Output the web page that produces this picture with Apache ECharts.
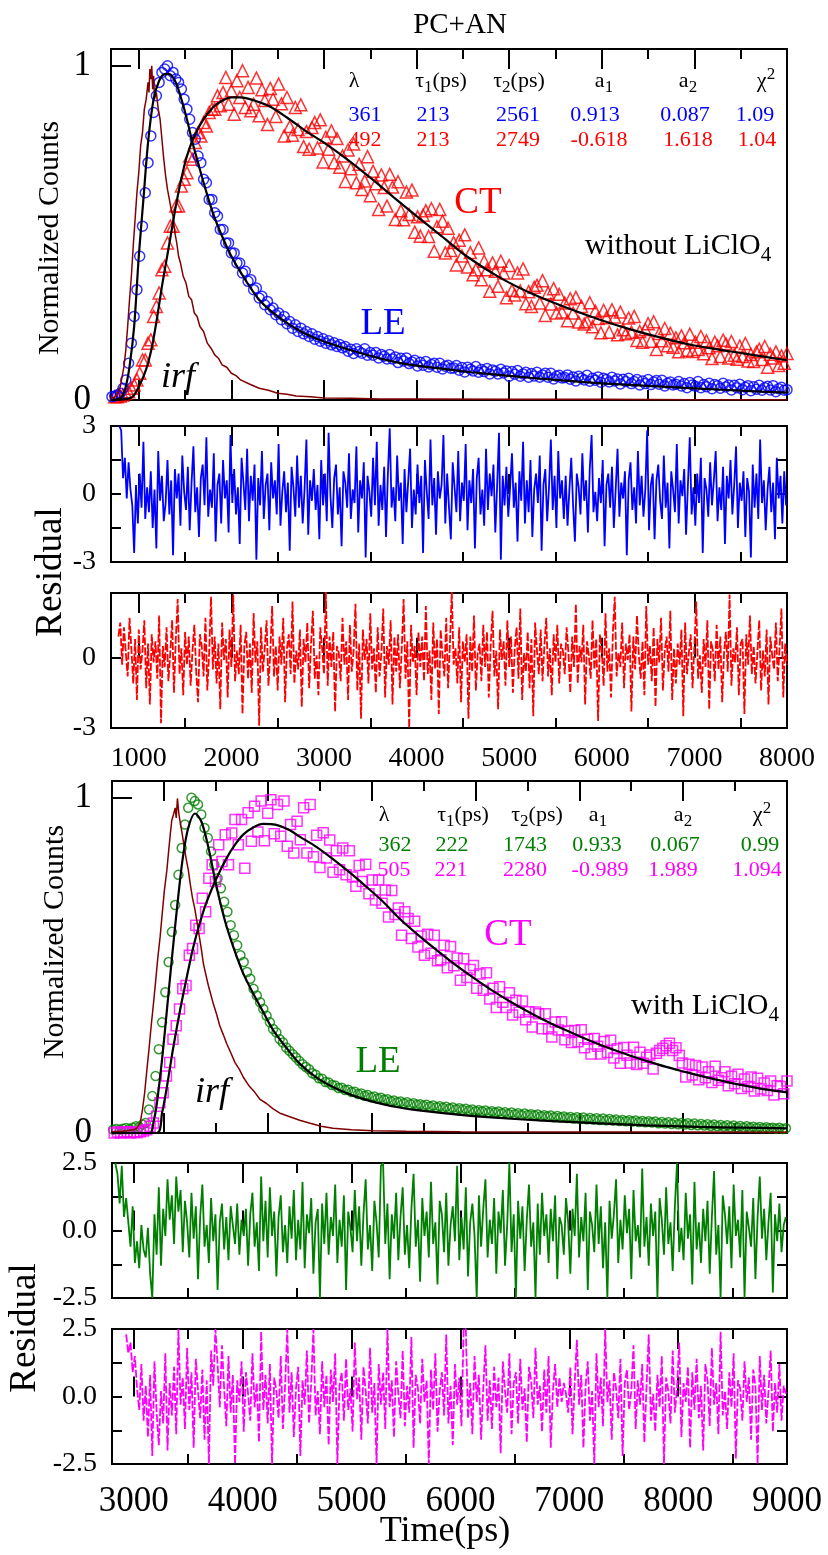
<!DOCTYPE html>
<html><head><meta charset="utf-8">
<script src="https://cdn.jsdelivr.net/npm/echarts@6.0.0/dist/echarts.min.js"></script>
<style>html,body{margin:0;padding:0;background:#fff}#c{width:828px;height:1555px}</style>
</head><body><div id="c"></div>
<script>
// ---------------- DATA ----------------
// Upper set: PC+AN without LiClO4 (time in ps, channel start/step)
const leTopStart = 710, leTopStep = 30;
const leTopVals = [0.01,0.012,0.015,0.02,0.035,0.06,0.11,0.17,0.25,0.33,
0.43,0.52,0.62,0.71,0.79,0.86,0.91,0.95,0.98,0.99,
1.0,0.97,0.98,0.96,0.95,0.93,0.9,0.87,0.84,0.8,
0.78,0.73,0.71,0.66,0.65,0.6,0.6,0.56,0.55,0.51,
0.51,0.47,0.47,0.44,0.44,0.41,0.41,0.38,0.385,0.355,
0.36,0.33,0.335,0.305,0.31,0.285,0.295,0.27,0.275,0.255,
0.26,0.24,0.25,0.228,0.235,0.215,0.225,0.205,0.215,0.198,
0.205,0.19,0.198,0.182,0.19,0.176,0.183,0.17,0.177,0.165,
0.171,0.16,0.166,0.156,
0.160,0.146,0.152,0.139,0.153,0.145,0.140,0.153,0.134,0.142,
0.134,0.142,0.126,0.136,0.131,0.123,0.136,0.123,0.129,0.112,
0.125,0.117,0.126,0.109,0.114,0.119,0.102,0.113,0.104,0.115,
0.099,0.106,0.110,0.098,0.110,0.093,0.101,0.104,0.095,0.096,
0.103,0.089,0.097,0.084,0.098,0.092,0.087,0.100,0.083,0.091,
0.085,0.094,0.078,0.090,0.086,0.078,0.092,0.081,0.087,0.071,
0.085,0.077,0.088,0.071,0.078,0.083,0.068,0.079,0.072,0.083,
0.068,0.075,0.080,0.068,0.080,0.063,0.071,0.074,0.066,0.067,
0.075,0.062,0.069,0.057,0.071,0.065,0.060,0.074,0.056,0.065,
0.059,0.069,0.053,0.065,0.061,0.054,0.068,0.057,0.063,0.048,
0.062,0.055,0.065,0.049,0.055,0.061,0.045,0.057,0.049,0.061,
0.046,0.054,0.058,0.047,0.059,0.042,0.050,0.054,0.045,0.047,
0.055,0.042,0.049,0.037,0.052,0.045,0.041,0.055,0.037,0.046,
0.040,0.050,0.034,0.046,0.043,0.035,0.050,0.039,0.045,0.030,
0.044,0.037,0.047,0.031,0.038,0.043,0.028,0.040,0.032,0.044,
0.029,0.037,0.041,0.030,0.043,0.025,0.034,0.038,0.029,0.031];

const ctTopStart = 740, ctTopStep = 30;
const ctTopVals = [0.01,0.01,0.012,0.015,0.02,0.025,0.035,0.045,0.06,0.08,
0.12,0.12,0.17,0.18,0.25,0.28,0.32,0.39,0.40,0.47,
0.52,0.52,0.58,0.58,0.64,0.66,0.68,0.73,0.72,0.77,
0.8,0.79,0.83,0.82,0.86,0.87,0.87,0.91,0.88,0.92,
0.965,0.885,0.925,0.855,0.955,0.905,0.985,0.875,0.935,0.865,
0.885,0.963,0.85,0.928,0.896,0.824,0.932,0.9,0.848,0.945,
0.886,0.79,0.905,0.818,0.792,0.875,0.809,0.883,0.758,0.803,
0.75,0.815,0.83,0.754,0.838,0.712,0.786,0.75,0.805,0.71,
0.782,0.696,0.73,0.654,0.748,0.692,0.766,0.65,0.705,0.63,
0.655,0.728,0.611,0.684,0.647,0.57,0.673,0.636,0.58,0.675,
0.637,0.54,0.653,0.566,0.539,0.622,0.555,0.628,0.502,0.548,
0.49,0.553,0.566,0.489,0.572,0.445,0.518,0.57,0.535,0.44,
0.514,0.447,0.471,0.404,0.478,0.431,0.494,0.398,0.441,0.375,
0.39,0.455,0.36,0.415,0.39,0.325,0.41,0.385,0.34,0.415,
0.38,0.306,0.402,0.328,0.314,0.38,0.326,0.392,0.288,0.324,
0.28,0.337,0.343,0.29,0.357,0.253,0.32,0.287,0.333,0.26,
0.316,0.263,0.29,0.237,0.303,0.26,0.307,0.233,0.28,0.227,
0.234,0.291,0.219,0.266,0.244,0.201,0.268,0.246,0.203,0.27,
0.248,0.195,0.263,0.21,0.198,0.245,0.203,0.25,0.178,0.205,
0.173,0.211,0.228,0.176,0.234,0.151,0.199,0.177,0.214,0.162,
0.2,0.158,0.186,0.144,0.192,0.171,0.149,0.197,0.145,0.173,
0.151,0.19,0.138,0.177,0.156,0.124,0.173,0.162,0.13,0.179,
0.168,0.126,0.175,0.134,0.122,0.161,0.13,0.169,0.117,0.136,
0.115,0.144,0.152,0.121,0.16,0.098,0.137,0.126,0.144,0.103,
0.132,0.11,0.139];

const irfTop = [[700,0.005],[740,0.008],[760,0.015],[780,0.025],[800,0.04],[820,0.07],[840,0.1],[860,0.15],[880,0.22],[900,0.3],[920,0.37],[940,0.46],[960,0.54],[980,0.62],[1000,0.68],[1020,0.76],[1040,0.8],[1060,0.87],[1080,0.9],[1100,0.95],[1110,0.92],[1120,0.99],[1130,0.96],[1140,1.0],[1150,0.93],[1160,0.97],[1170,0.9],[1190,0.92],[1210,0.87],[1230,0.84],[1250,0.78],[1270,0.72],[1290,0.67],[1310,0.63],[1330,0.6],[1350,0.57],[1370,0.55],[1390,0.5],[1410,0.47],[1430,0.43],[1450,0.41],[1480,0.37],[1510,0.35],[1540,0.31],[1570,0.3],[1600,0.26],[1630,0.25],[1660,0.22],[1700,0.205],[1740,0.17],[1780,0.155],[1820,0.135],[1860,0.125],[1900,0.105],[1950,0.098],[2000,0.08],[2050,0.073],[2100,0.06],[2200,0.047],[2300,0.035],[2400,0.029],[2500,0.02],[2600,0.017],[2700,0.012],[2850,0.01],[3000,0.006],[3300,0.005],[3600,0.003],[4000,0.003],[5000,0.002],[6000,0.002],[7000,0.001],[8000,0.001]];

const fitLeTop = [[700,0],[800,0.005],[850,0.03],[900,0.1],[950,0.22],[1000,0.43],[1050,0.6],[1100,0.77],[1160,0.9],[1220,0.955],[1280,0.975],[1330,0.975],[1400,0.95],[1460,0.9],[1520,0.84],[1580,0.77],[1640,0.71],[1700,0.65],[1800,0.56],[1900,0.49],[2000,0.43],[2150,0.36],[2300,0.3],[2500,0.25],[2750,0.205],[3000,0.175],[3400,0.14],[3800,0.112],[4200,0.096],[4600,0.083],[5000,0.072],[5500,0.06],[6000,0.05],[6500,0.042],[7000,0.035],[7500,0.028],[8000,0.022]];

const fitCtTop = [[700,0],[900,0.005],[950,0.015],[1000,0.04],[1050,0.07],[1100,0.11],[1150,0.17],[1200,0.25],[1250,0.34],[1300,0.42],[1350,0.5],[1400,0.58],[1450,0.65],[1500,0.71],[1550,0.755],[1600,0.79],[1700,0.84],[1800,0.875],[1900,0.895],[2000,0.905],[2100,0.905],[2200,0.9],[2400,0.88],[2600,0.845],[2800,0.805],[3000,0.77],[3250,0.72],[3500,0.665],[3750,0.607],[4000,0.55],[4270,0.49],[4540,0.43],[4900,0.366],[5260,0.316],[5600,0.278],[5980,0.24],[6300,0.212],[6700,0.182],[7000,0.163],[7400,0.145],[8000,0.119]];

const resLeTopStart = 790, resLeTopStep = 20;
const resLeTop = [3.0,2.8,0.7,1.6,-0.2,1.4,0.2,-0.5,-2.6,0.4,
-1.3,0.9,-0.6,2.3,-1.1,0.3,-0.8,1.0,-1.5,0.2,
-2.4,1.9,-0.3,0.8,-1.2,-0.4,1.5,-0.9,0.6,-2.7,
1.1,-0.2,0.9,-1.4,1.7,0.1,-0.7,1.2,-1.6,0.5,
2.1,-0.8,0.3,-1.9,0.7,1.3,-0.5,2.5,-1.0,0.2,
-0.6,1.8,-2.1,0.4,0.9,-1.3,1.5,-0.2,0.6,-1.7,
2.6,-0.4,1.1,-0.9,0.3,-2.2,1.6,0.5,-0.7,2.0,
-1.2,0.8,-0.3,1.3,-2.9,0.7,-0.5,1.9,-1.1,0.4,
0.9,-1.6,1.4,-0.2,0.6,-0.9,2.2,-1.4,0.1,1.0,
-0.8,0.5,-2.5,1.2,0.3,-1.0,1.7,-0.6,0.8,-1.3,
0.2,2.4,-1.8,0.6,-0.3,1.1,-0.7,0.4,-2.0,1.5,
-0.5,0.9,-1.2,2.7,-0.1,-1.5,0.7,1.3,-0.9,0.3,
-2.3,1.0,0.5,-0.6,1.8,-1.1,0.2,-0.4,2.1,-1.7,
0.6,-0.2,1.4,-2.8,0.8,0.1,-1.0,1.6,-0.5,2.3,
-1.4,0.4,-0.7,1.2,-1.9,0.9,2.9,-0.6,0.3,-1.2,
1.7,-0.3,0.5,-2.2,1.1,-0.8,0.6,2.0,-1.5,0.2,
-0.9,1.3,-0.4,0.8,-2.6,1.5,0.1,-1.1,2.4,-0.5,
0.7,-1.8,1.0,-0.2,0.4,2.6,-1.3,0.9,-0.6,-2.0,
1.4,0.3,-0.8,1.9,-1.2,0.5,-0.3,2.2,-1.6,0.6,
-0.4,1.1,-2.4,0.7,1.6,-0.9,0.2,-1.4,2.0,-0.7,
0.9,-0.1,1.3,-1.7,0.4,2.7,-2.9,0.8,-0.5,1.2,
-1.0,0.3,1.8,-0.6,0.5,-2.1,1.0,-0.3,2.3,-1.3,
0.6,-0.8,1.5,-1.9,0.2,0.9,-0.4,1.7,-2.5,0.4,
1.1,-1.2,0.3,2.4,-0.7,0.8,-1.5,1.9,-0.2,0.6,
-1.1,0.8,-1.4,0.2,1.6,-0.5,-2.1,0.9,0.3,-0.9,
1.8,-0.3,0.6,-1.7,1.1,2.6,-0.8,0.1,-1.2,0.7,
-0.4,1.5,-2.3,0.4,0.9,-0.6,1.2,-1.5,0.2,2.0,
-1.0,0.5,-0.2,1.0,-2.7,0.6,1.4,-0.7,0.3,-1.3,
1.9,-0.5,0.8,-1.0,0.2,2.8,-1.6,0.4,0.9,-2.0,
0.6,1.3,-0.3,-1.1,1.7,-0.6,0.5,-2.4,1.0,0.2,
-0.8,2.2,-1.3,0.6,-0.1,1.1,-1.8,0.4,2.5,-0.9,
0.3,-1.4,0.9,-0.4,1.6,-2.6,0.7,0.2,-1.0,1.4,
-0.5,0.6,1.9,-1.2,0.3,-0.7,1.2,-2.2,0.8,-0.2,
1.5,-0.9,0.4,2.1,-1.5,0.5,-0.3,1.0,-1.9,0.7,
0.1,-2.8,1.3,-0.6,0.9,-1.1,2.4,-0.4,0.6,-1.6,
0.2,1.2,-0.8,0.5,-2.0,1.6,-0.2,0.8,-1.3,1.0,
-0.5];

const resCtTopStart = 780, resCtTopStep = 20;
const resCtTop = [0.9,1.5,-0.3,1.3,0.2,-0.8,1.7,0.4,-1.1,0.8,
-1.8,1.2,-0.5,0.3,1.6,-1.3,0.6,-2.0,1.0,-0.2,
0.7,-0.9,1.8,-2.8,0.5,-0.4,1.3,-1.0,0.2,1.6,
-1.5,0.8,2.5,-0.7,0.4,-1.6,1.1,-0.3,0.9,-1.2,
0.3,1.4,-0.6,-1.9,1.0,0.5,-0.8,1.7,-1.4,0.2,
2.6,-0.5,0.9,-1.1,0.6,-2.2,1.5,-0.1,0.8,-1.7,
1.2,-0.4,2.7,-1.0,0.3,-0.7,1.4,-2.4,0.5,1.1,
-0.9,0.6,-1.5,1.9,-0.2,0.7,-2.9,1.3,-0.6,0.4,
1.6,-1.2,0.2,2.2,-0.8,0.5,-1.4,0.9,-0.3,1.7,
-1.9,0.4,1.0,-0.7,2.4,-1.1,0.3,-0.5,1.2,-2.1,
0.8,-0.2,1.5,-1.3,0.6,2.0,-0.9,0.1,-1.6,1.3,
0.4,-0.7,2.8,-1.2,0.9,-0.4,1.1,-2.3,0.5,0.2,
-1.0,1.7,-0.3,0.7,-1.8,1.4,-0.6,0.3,2.3,-1.4,
0.6,-2.6,1.2,-0.1,0.8,-1.1,1.9,-0.5,0.4,-1.5,
1.3,-0.8,0.2,2.1,-1.7,0.5,-0.3,1.6,-2.0,0.9,
-0.6,1.0,-1.3,0.4,2.5,-0.9,0.7,-3.0,1.4,-0.2,
0.5,-1.6,1.1,-0.4,0.9,-1.0,2.2,-0.7,0.3,-1.8,
1.5,-0.5,0.8,-2.4,1.2,0.1,-0.8,1.7,-1.3,0.6,
2.8,-0.3,0.4,-1.1,1.3,-1.9,0.7,-0.2,1.0,-2.6,
0.9,-0.6,1.8,-1.4,0.2,0.6,-1.0,1.4,-0.4,1.1,
-1.7,0.5,2.0,-0.8,0.3,-2.2,1.2,-0.1,0.7,-1.2,
1.6,-0.4,0.9,-1.5,0.4,1.3,-0.9,2.1,-1.8,0.2,
-0.6,1.1,-1.3,0.8,-2.5,1.5,0.3,-0.7,1.2,-1.0,
0.5,1.7,-0.8,0.4,-1.6,1.0,-0.2,1.4,-1.1,0.6,
0.3,-0.7,1.3,0.2,-1.5,0.9,-0.4,2.3,-1.1,0.5,
-0.2,1.4,-2.0,0.7,0.1,-0.9,1.6,-0.5,0.8,-2.7,
1.0,0.3,-1.2,1.9,-0.6,0.4,-1.7,1.1,2.6,-0.8,
0.2,-0.4,1.5,-1.3,0.6,-0.1,1.0,-2.3,0.9,-0.5,
1.8,0.1,-0.9,0.7,-1.6,2.2,-0.3,0.5,-1.0,1.3,
-2.1,0.8,-0.2,1.7,-1.4,0.3,0.9,-0.6,2.0,-1.8,
0.4,-1.1,0.6,-0.3,1.2,-2.5,1.5,-0.7,0.2,1.0,
-1.3,0.5,2.4,-0.9,0.1,-1.5,0.8,-0.4,1.6,-2.2,
0.7,0.3,-1.0,1.4,-0.5,0.9,-1.9,0.2,1.1,-0.6,
2.7,-1.2,0.4,-0.2,1.3,-1.6,0.6,0.8,-2.4,1.0,
-0.3,1.8,-0.7,0.5,-1.1,0.2,1.6,-1.4,0.3,-0.8,
1.2,-2.0,0.9,0.1,-0.5,1.5,-1.0,0.4,2.1,-1.7,
0.6,-0.3];

// Lower set: PC+AN with LiClO4
const leBotStart = 2810, leBotStep = 30;
const leBotVals = [0.01,0.012,0.01,0.013,0.015,0.012,0.016,0.02,0.018,0.025,
0.03,0.07,0.11,0.17,0.25,0.33,0.42,0.51,0.6,0.68,
0.77,0.85,0.92,0.97,1.0,0.99,0.98,0.95,0.91,0.88,
0.84,0.8,0.76,0.73,0.69,0.66,0.62,0.59,0.56,0.53,
0.51,0.48,0.46,0.43,0.41,0.39,0.37,0.35,0.33,0.31,
0.3,0.28,0.27,0.255,0.245,0.235,0.225,0.215,0.205,0.197,
0.19,0.178,0.174,0.163,0.162,0.152,0.151,0.143,0.142,0.134,
0.135,0.128,0.129,0.122,0.123,0.116,0.118,0.111,0.113,0.107,
0.109,0.103,0.105,0.099,0.101,0.095,0.097,0.092,0.094,0.089,
0.092,0.086,0.089,0.084,0.086,0.081,0.084,0.079,0.082,0.077,
0.08,0.075,0.078,0.073,0.076,0.071,0.074,0.069,0.072,0.067,
0.07,0.065,0.068,0.064,0.067,0.062,0.065,0.061,0.064,0.059,
0.062,0.057,0.061,0.056,0.059,0.054,0.058,0.054,0.056,0.052,
0.055,0.05,0.053,0.049,0.052,0.047,0.051,0.046,0.049,0.045,
0.048,0.043,0.047,0.042,0.046,0.041,0.045,0.04,0.044,0.039,
0.043,0.038,0.042,0.037,0.04,0.036,0.039,0.035,0.038,0.034,
0.037,0.033,0.036,0.032,0.035,0.031,0.034,0.029,0.033,0.028,
0.032,0.027,0.031,0.026,0.03,0.025,0.029,0.024,0.028,0.023,
0.027,0.022,0.026,0.021,0.025,0.02,0.024,0.019,0.023,0.018,
0.022,0.017,0.021,0.016,0.02,0.016,0.019,0.015,0.018,0.014,
0.017,0.014,0.016,0.013,0.016,0.012,0.014];

const ctBotStart = 2820, ctBotStep = 30;
const ctBotVals = [0.0,0.003,0.0,0.002,0.004,0.0,0.003,0.001,0.004,0.006,
0.01,0.02,0.03,0.05,0.09,0.12,0.17,0.21,0.28,0.32,
0.37,0.43,0.44,0.53,0.55,0.62,0.61,0.7,0.66,0.76,
0.8,0.75,0.86,0.81,0.89,0.8,0.895,0.935,0.86,0.935,
0.79,0.955,0.87,0.975,0.898,0.99,0.872,0.954,0.994,0.893,
0.98,0.885,0.99,0.855,0.92,0.835,0.93,0.875,0.97,0.835,
0.98,0.824,0.888,0.792,0.896,0.82,0.874,0.778,0.842,0.785,
0.85,0.77,0.842,0.764,0.736,0.798,0.75,0.802,0.714,0.755,
0.695,0.755,0.685,0.725,0.644,0.723,0.652,0.671,0.59,0.66,
0.64,0.58,0.632,0.555,0.588,0.53,0.593,0.536,0.59,0.514,
0.517,0.56,0.493,0.556,0.499,0.522,0.456,0.52,0.464,0.488,
0.5,0.432,0.474,0.426,0.478,0.4,0.432,0.374,0.436,0.39,
0.374,0.418,0.352,0.396,0.36,0.394,0.338,0.362,0.316,0.361,
0.356,0.311,0.356,0.311,0.286,0.331,0.307,0.332,0.278,0.304,
0.27,0.306,0.272,0.308,0.254,0.28,0.236,0.282,0.259,0.236,
0.273,0.24,0.277,0.224,0.251,0.208,0.255,0.232,0.209,0.256,
0.204,0.241,0.208,0.226,0.233,0.191,0.238,0.246,0.253,0.26,
0.268,0.246,0.254,0.231,0.209,0.167,0.205,0.173,0.201,0.159,
0.197,0.165,0.183,0.151,0.199,0.157,0.165,0.183,0.141,0.169,
0.147,0.175,0.133,0.161,0.139,0.167,0.125,0.163,0.131,0.149,
0.127,0.155,0.113,0.141,0.139,0.117,0.155];

const irfBot = [[2800,0.004],[2900,0.005],[3000,0.01],[3030,0.015],[3059,0.03],[3080,0.07],[3100,0.12],[3120,0.187],[3140,0.25],[3160,0.32],[3181,0.386],[3200,0.45],[3220,0.52],[3242,0.585],[3260,0.65],[3280,0.72],[3304,0.784],[3320,0.84],[3335,0.89],[3349,0.933],[3365,0.95],[3380,0.97],[3390,0.94],[3401,0.998],[3415,0.95],[3430,0.92],[3441,0.9],[3460,0.86],[3480,0.82],[3501,0.784],[3520,0.74],[3540,0.7],[3560,0.67],[3578,0.635],[3600,0.59],[3620,0.55],[3639,0.506],[3660,0.475],[3685,0.44],[3710,0.41],[3730,0.386],[3760,0.355],[3790,0.32],[3820,0.295],[3853,0.267],[3890,0.24],[3930,0.21],[3970,0.19],[4005,0.167],[4060,0.14],[4110,0.122],[4160,0.1],[4219,0.088],[4280,0.072],[4350,0.058],[4420,0.05],[4524,0.038],[4620,0.029],[4720,0.02],[4830,0.014],[5000,0.01],[5200,0.007],[5500,0.005],[6000,0.004],[7000,0.003],[8000,0.003],[9000,0.002]];

const fitLeBot = [[2800,0],[3150,0],[3180,0.03],[3212,0.088],[3260,0.22],[3304,0.366],[3350,0.52],[3400,0.68],[3450,0.82],[3500,0.91],[3563,0.953],[3620,0.93],[3680,0.86],[3761,0.734],[3840,0.63],[3914,0.555],[4000,0.48],[4097,0.416],[4190,0.36],[4280,0.307],[4400,0.255],[4524,0.207],[4680,0.165],[4830,0.137],[5000,0.113],[5200,0.093],[5440,0.076],[5600,0.068],[6000,0.054],[6356,0.045],[6800,0.036],[7271,0.029],[7700,0.023],[8187,0.018],[8600,0.016],[9000,0.014]];

const fitCtBot = [[2800,0],[3212,0],[3260,0.06],[3304,0.137],[3360,0.25],[3425,0.366],[3490,0.47],[3547,0.555],[3610,0.63],[3670,0.69],[3760,0.76],[3853,0.82],[3930,0.86],[4005,0.89],[4100,0.912],[4188,0.922],[4300,0.92],[4420,0.905],[4524,0.884],[4680,0.853],[4830,0.817],[4980,0.778],[5135,0.735],[5290,0.69],[5440,0.64],[5600,0.594],[5745,0.555],[5900,0.515],[6050,0.479],[6200,0.445],[6356,0.412],[6500,0.384],[6661,0.355],[6800,0.332],[6966,0.307],[7120,0.285],[7271,0.265],[7420,0.247],[7576,0.229],[7730,0.213],[7882,0.198],[8030,0.185],[8187,0.172],[8340,0.16],[8492,0.149],[8650,0.139],[8800,0.13],[9000,0.121]];

const resLeBotStart = 2830, resLeBotStep = 20;
const resLeBot = [2.5,2.1,1.0,2.4,0.5,1.2,0.3,-0.6,0.9,-1.2,
-0.4,-1.4,0.2,-0.7,-1.0,0.1,-1.6,-2.5,0.6,-0.9,
1.6,-1.3,0.8,-0.2,1.9,0.4,1.3,-0.5,2.0,0.7,
1.5,-0.8,1.1,0.3,-1.0,1.4,-0.3,0.9,-1.8,0.5,
1.7,-0.6,0.2,-1.2,1.2,-0.4,0.6,-2.2,0.3,1.0,
-0.7,0.5,-1.1,0.9,0.2,-0.5,1.0,-0.9,0.4,-0.2,
0.8,-1.3,0.6,1.4,-0.6,0.3,-1.5,2.0,-0.4,1.1,
-1.0,1.6,-0.2,0.7,-1.7,0.5,1.3,-0.8,0.2,-1.2,
0.9,-0.3,1.5,-1.1,0.4,-0.7,1.8,-1.4,0.6,-0.1,
1.2,-1.6,0.3,0.8,-2.5,1.0,-0.5,1.4,-0.9,0.5,
-0.2,1.7,-1.2,0.4,-0.6,1.3,-2.2,0.7,0.1,-0.8,
1.5,-0.4,0.9,-1.3,0.6,1.9,-0.7,0.2,-1.5,1.1,
0.3,-1.0,2.4,2.5,-0.5,1.0,-1.8,0.6,-0.3,1.4,
-1.1,0.5,1.6,-0.9,0.2,-1.4,0.8,2.1,-0.6,0.4,
-1.9,1.2,-0.2,0.7,-1.0,1.8,-0.5,0.3,-2.0,1.1,
0.6,-0.8,1.4,-1.3,0.2,0.9,-0.4,2.4,-1.1,0.5,
-0.7,1.6,-1.7,0.3,1.0,-0.2,-2.5,1.3,-0.6,0.8,
1.9,-1.0,0.4,-0.5,1.2,-1.6,0.7,-0.1,1.5,-1.3,
0.2,2.5,-0.8,0.6,-2.5,1.1,-0.3,0.9,-1.5,0.4,
1.7,-0.6,0.3,-2.5,1.0,-0.9,1.4,-0.2,0.6,-1.2,
0.8,-0.4,1.3,-1.8,0.5,0.2,-0.9,1.2,0.3,-1.6,
0.8,-0.2,2.1,-1.0,0.5,-0.4,1.4,-2.2,0.7,0.2,
-0.8,1.7,-0.5,0.9,-1.4,0.3,-2.5,1.1,-0.3,0.6,
1.9,-1.2,0.4,-0.7,1.3,-0.1,0.8,-1.8,1.5,-0.4,
0.2,-1.0,2.3,-0.6,0.5,-1.3,1.0,-0.2,0.7,-2.5,
1.2,0.4,-0.9,1.6,-0.5,0.3,-1.5,0.9,2.5,-0.8,
0.1,-1.1,1.4,-0.3,0.6,-2.0,1.8,-0.7,0.3,-1.2,
0.8,-0.4,1.1,-1.6,0.5,2.2,-0.9,0.2,-2.5,1.3,
0.6,-0.5,0.9,-1.4,1.7,-0.2,0.4,-1.0,1.5,-2.5,
0.7,0.1,-0.6,1.2,-1.8,0.5,2.0,-0.3,0.8,-1.1,
0.3,1.4,-2.3,0.6,-0.4,1.0,-0.8,0.2,0.5];

const resCtBotStart = 2930, resCtBotStep = 20;
const resCtBot = [2.3,1.6,2.0,0.9,1.5,0.3,-0.5,1.2,-0.9,0.4,
-1.5,0.8,-2.2,1.3,-0.6,-1.8,0.2,-1.0,1.6,-2.0,
0.5,-0.7,1.1,-1.4,2.5,-0.3,0.7,-1.2,1.8,-0.5,
0.9,-1.9,1.4,0.2,-0.8,1.0,-1.6,0.6,-2.5,1.7,
0.4,2.5,1.2,-0.4,1.9,0.3,-1.1,1.5,-0.6,0.8,
-2.5,0.6,-0.2,1.3,-1.3,0.9,0.1,-0.9,1.6,-0.4,
0.5,-1.7,2.4,-0.5,0.8,-1.0,1.2,-2.5,0.7,0.2,
-0.8,1.5,-1.2,0.4,2.5,-0.6,0.9,-1.5,0.3,1.1,
-2.2,0.6,-0.3,1.7,-1.0,0.5,2.5,-0.7,0.2,-1.4,
1.3,-0.4,0.8,-1.8,1.0,-0.2,1.6,-2.5,0.4,0.9,
-0.9,1.4,-0.5,0.3,-1.3,2.0,-0.1,0.7,-1.6,1.1,
0.2,-1.0,1.8,-0.6,0.5,-2.5,1.2,-0.3,0.9,-1.2,
2.5,-0.4,0.6,-1.5,1.3,0.1,-0.8,1.7,-1.1,0.4,
-0.6,2.2,-1.9,0.8,0.3,-1.0,1.4,-0.2,0.6,-2.5,
1.0,-0.5,1.6,-1.3,0.2,0.9,-0.7,2.3,-1.0,0.4,
-1.8,1.2,-0.3,0.7,-1.1,2.5,2.5,-0.8,0.5,-1.4,
1.5,-0.2,0.8,-1.6,0.3,1.9,-0.9,0.6,-1.2,1.1,
-0.4,0.7,-2.1,1.3,0.2,-0.6,1.6,-1.4,0.5,0.9,
-1.0,1.4,-0.5,0.3,-1.7,1.1,0.6,-0.8,1.8,-0.3,
0.4,-1.3,1.0,-0.6,1.5,-1.9,0.2,1.2,-0.4,0.7,
-0.2,0.5,0.1,-0.6,1.1,-1.4,0.5,2.1,-0.3,0.8,
-1.9,0.4,1.3,-0.9,0.2,-2.5,1.6,-0.4,0.7,-1.1,
2.5,-0.2,0.6,-1.6,0.9,0.3,-0.8,1.4,-2.2,0.5,
1.0,-0.5,0.2,1.9,-1.2,0.6,-0.3,1.2,-1.7,0.4,
2.3,-0.9,0.1,-1.3,0.8,-0.4,1.5,-2.5,0.7,0.2,
-1.0,1.7,-0.6,0.3,2.0,-1.5,0.5,-0.2,1.1,-1.9,
0.9,-0.5,1.4,-0.8,0.4,-2.0,1.2,0.6,-1.1,1.8,
-0.3,0.5,-1.4,2.4,-0.7,0.2,-1.2,0.9,-0.4,1.6,
-2.3,0.6,0.3,-0.9,1.3,-0.2,0.7,-1.6,1.0,0.4,
-2.5,1.5,-0.5,0.8,-1.0,0.2,1.7,-1.3,0.5,-0.6,
1.2,-0.9,0.4,0.1];

// Axis tick values / labels
const upperTicksMajor = [1000,2000,3000,4000,5000,6000,7000,8000];
const upperTicksMinor = [1500,2500,3500,4500,5500,6500,7500];
const lowerTicksMajor = [3000,4000,5000,6000,7000,8000,9000];
const lowerTicksMinor = [3500,4500,5500,6500,7500,8500];
const decayLowTicksMajor = [1,3,5,7,9,11];
const decayLowTicksMinor = [1,2,3,4,5,6,7,8,9,10,11,12];

// Fit-parameter tables
const tableHeads = ['λ', 'τ1(ps)', 'τ2(ps)', 'a1', 'a2', 'χ2'];
const paramsLeTop = ['361', '213', '2561', '0.913', '0.087', '1.09'];
const paramsCtTop = ['492', '213', '2749', '-0.618', '1.618', '1.04'];
const paramsLeBot = ['362', '222', '1743', '0.933', '0.067', '0.99'];
const paramsCtBot = ['505', '221', '2280', '-0.989', '1.989', '1.094'];

// ---------------- CHART ----------------
const FONT = "'Liberation Serif','Times New Roman',serif";
const C_BLUE = '#0000ff', C_RED = '#ff0000', C_GREEN = '#008000', C_MAG = '#ff00ff', C_IRF = '#800000';

function chan(start, step, vals) { return vals.map((v, i) => [start + i * step, v]); }

const grids = [
  {left: 111, top: 49, width: 676, height: 351},
  {left: 111, top: 426, width: 676, height: 136},
  {left: 111, top: 593, width: 676, height: 135},
  {left: 112, top: 781, width: 675, height: 352},
  {left: 112, top: 1163, width: 675, height: 135},
  {left: 112, top: 1329, width: 675, height: 135}
];

const xAxis = [], yAxis = [], series = [];
const DX = [], DY = [];

function tickX(g, pos, min, max, ticks, len, label) {
  xAxis.push({type: 'value', gridIndex: g, position: pos, min: min, max: max,
    axisLine: {show: false}, splitLine: {show: false},
    axisTick: {show: true, inside: true, length: len, customValues: ticks, lineStyle: {color: '#000', width: 2}},
    axisLabel: label ? Object.assign({show: true, color: '#000', fontFamily: FONT, customValues: ticks,
      formatter: v => String(Math.round(v))}, label) : {show: false}});
}
function dataX(g, min, max) {
  DX[g] = xAxis.length;
  xAxis.push({type: 'value', gridIndex: g, position: 'bottom', min: min, max: max, show: false, splitLine: {show: false}});
}
function dataY(g, min, max, interval, len, fmt, fontSize, margin) {
  DY[g] = yAxis.length;
  yAxis.push({type: 'value', gridIndex: g, position: 'left', min: min, max: max, interval: interval,
    axisLine: {show: false}, splitLine: {show: false},
    axisTick: {show: true, inside: true, length: len, lineStyle: {color: '#000', width: 2}},
    axisLabel: {show: true, formatter: fmt, fontFamily: FONT, fontSize: fontSize, color: '#000', margin: margin}});
}
function tickYRight(g, min, max, interval, len) {
  yAxis.push({type: 'value', gridIndex: g, position: 'right', min: min, max: max, interval: interval,
    axisLine: {show: false}, splitLine: {show: false},
    axisTick: {show: true, inside: true, length: len, lineStyle: {color: '#000', width: 2}},
    axisLabel: {show: false}});
}

[0, 1, 2].forEach(g => {
  dataX(g, 700, 8000);
  tickX(g, 'bottom', 700, 8000, upperTicksMajor, 20, g === 2 ? {fontSize: 28, margin: 17} : null);
  tickX(g, 'bottom', 700, 8000, upperTicksMinor, 10, null);
  tickX(g, 'top', 700, 8000, upperTicksMajor, 20, null);
  tickX(g, 'top', 700, 8000, upperTicksMinor, 10, null);
});
dataX(3, 2800, 9000);
tickX(3, 'bottom', 0, 13, decayLowTicksMinor, 10, null);
tickX(3, 'bottom', 0, 13, decayLowTicksMajor, 20, null);
tickX(3, 'top', 0, 13, decayLowTicksMinor, 10, null);
tickX(3, 'top', 0, 13, decayLowTicksMajor, 20, null);
[4, 5].forEach(g => {
  dataX(g, 2800, 9000);
  tickX(g, 'bottom', 2800, 9000, lowerTicksMajor, 20, g === 5 ? {fontSize: 35, margin: 20} : null);
  tickX(g, 'bottom', 2800, 9000, lowerTicksMinor, 10, null);
  tickX(g, 'top', 2800, 9000, lowerTicksMajor, 20, null);
  tickX(g, 'top', 2800, 9000, lowerTicksMinor, 10, null);
});

const fmtDecay = v => (v === 0 ? '0' : v === 1 ? '1' : '');
dataY(0, 0, 1.05, 1, 20, fmtDecay, 35, 20);
dataY(1, -3, 3, 1.5, 10, v => (v === 3 ? '3' : v === 0 ? '0' : v === -3 ? '-3' : ''), 28, 15);
tickYRight(1, -3, 3, 1.5, 10);
dataY(2, -3, 2.76, 3, 10, v => (v === 0 ? '0' : v === -3 ? '-3' : ''), 28, 15);
tickYRight(2, -3, 2.76, 3, 10);
dataY(3, 0, 1.05, 1, 20, fmtDecay, 35, 20);
const fmtRes = v => (v === 2.5 ? '2.5' : v === 0 ? '0.0' : v === -2.5 ? '-2.5' : '');
dataY(4, -2.5, 2.5, 1.25, 10, fmtRes, 28, 15);
tickYRight(4, -2.5, 2.5, 1.25, 10);
dataY(5, -2.5, 2.5, 1.25, 10, fmtRes, 28, 15);
tickYRight(5, -2.5, 2.5, 1.25, 10);

function scatter(g, data, symbol, size, color, z) {
  series.push({type: 'scatter', xAxisIndex: DX[g], yAxisIndex: DY[g], data: data, symbol: symbol, symbolSize: size,
    silent: true, z: z, itemStyle: {color: 'rgba(0,0,0,0)', borderColor: color, borderWidth: 1.5}});
}
function line(g, data, color, width, z, opts) {
  series.push(Object.assign({type: 'line', xAxisIndex: DX[g], yAxisIndex: DY[g], data: data, symbol: 'none', showSymbol: false,
    silent: true, z: z, lineStyle: {color: color, width: width}}, opts || {}));
}

scatter(0, chan(ctTopStart, ctTopStep, ctTopVals), 'triangle', 12, C_RED, 2);
scatter(0, chan(leTopStart, leTopStep, leTopVals), 'circle', 10, C_BLUE, 3);
line(0, irfTop, C_IRF, 1.5, 4);
line(0, fitCtTop, '#000', 2.2, 5, {smooth: 0.3});
line(0, fitLeTop, '#000', 2.2, 5, {smooth: 0.3});
line(1, chan(resLeTopStart, resLeTopStep, resLeTop), C_BLUE, 1.8, 3);
line(2, chan(resCtTopStart, resCtTopStep, resCtTop), C_RED, 1.8, 3, {lineStyle: {color: C_RED, width: 1.8, type: [8, 2]}});
scatter(3, chan(leBotStart, leBotStep, leBotVals), 'circle', 9, C_GREEN, 2);
scatter(3, chan(ctBotStart, ctBotStep, ctBotVals), 'rect', 10, C_MAG, 3);
line(3, irfBot, C_IRF, 1.5, 4);
line(3, fitLeBot, '#000', 2.2, 5, {smooth: 0.3});
line(3, fitCtBot, '#000', 2.2, 5, {smooth: 0.3});
line(4, chan(resLeBotStart, resLeBotStep, resLeBot), C_GREEN, 1.8, 3);
line(5, chan(resCtBotStart, resCtBotStep, resCtBot), C_MAG, 1.8, 3, {lineStyle: {color: C_MAG, width: 1.8, type: [8, 2]}});

// ---------------- TEXT ----------------
const graphic = [];
function txt(x, y, text, size, color, extra) {
  const style = Object.assign({text: text, fontFamily: FONT, fontSize: size, fill: color,
    textAlign: 'center', textVerticalAlign: 'middle', align: 'center', verticalAlign: 'middle'}, extra || {});
  graphic.push({type: 'text', x: x, y: y, z: 100, silent: true, style: style});
  return graphic[graphic.length - 1];
}
function richFor(size, color) {
  return {
    b: {fontFamily: FONT, fontSize: size, fill: color, lineHeight: 30, verticalAlign: 'middle'},
    s: {fontFamily: FONT, fontSize: Math.round(size * 0.75), fill: color, lineHeight: 14, verticalAlign: 'bottom'},
    p: {fontFamily: FONT, fontSize: Math.round(size * 0.75), fill: color, lineHeight: 14, verticalAlign: 'top'}
  };
}
function headText(h) {
  if (h === 'τ1(ps)') return '{b|τ}{s|1}{b|(ps)}';
  if (h === 'τ2(ps)') return '{b|τ}{s|2}{b|(ps)}';
  if (h === 'a1') return '{b|a}{s|1}';
  if (h === 'a2') return '{b|a}{s|2}';
  if (h === 'χ2') return '{b|χ}{p|2}';
  return '{b|' + h + '}';
}
function table(headX, headY, rows) {
  tableHeads.forEach((h, i) => txt(headX[i], headY, headText(h), 22, '#000', {rich: richFor(22, '#000')}));
  rows.forEach(r => r.vals.forEach((v, i) => txt(r.xs[i], r.y, v, 22, r.color)));
}
table([354, 441, 519, 604, 688, 766], 81, [
  {vals: paramsLeTop, xs: [365, 433, 518, 595, 685, 755], y: 115, color: C_BLUE},
  {vals: paramsCtTop, xs: [365, 433, 518, 599, 688, 757], y: 140, color: C_RED}
]);
table([384, 463, 537, 598, 683, 762], 815, [
  {vals: paramsLeBot, xs: [395, 452, 525, 597, 675, 760], y: 845, color: C_GREEN},
  {vals: paramsCtBot, xs: [394, 451, 525, 600, 673, 757], y: 870, color: C_MAG}
]);

const subRich = {
  m: {fontFamily: FONT, fontSize: 30, fill: '#000', lineHeight: 40, verticalAlign: 'middle'},
  s: {fontFamily: FONT, fontSize: 21, fill: '#000', lineHeight: 22, verticalAlign: 'bottom'}
};
txt(460, 25, 'PC+AN', 29, '#000');
txt(478, 203, 'CT', 37, C_RED);
txt(383, 324, 'LE', 37, C_BLUE);
txt(178, 378, 'irf', 36, '#000', {fontStyle: 'italic'});
txt(678, 246, '{m|without LiClO}{s|4}', 30, '#000', {rich: subRich});
txt(508, 935, 'CT', 37, C_MAG);
txt(378, 1062, 'LE', 37, C_GREEN);
txt(212, 1093, 'irf', 36, '#000', {fontStyle: 'italic'});
txt(705, 1006, '{m|with LiClO}{s|4}', 30, '#000', {rich: subRich});

txt(50, 238, 'Normalized Counts', 30, '#000').rotation = Math.PI / 2;
txt(55, 942, 'Normalized Counts', 30, '#000').rotation = Math.PI / 2;
txt(51, 572, 'Residual', 37, '#000').rotation = Math.PI / 2;
txt(25, 1328, 'Residual', 37, '#000').rotation = Math.PI / 2;
txt(445, 1532, 'Time(ps)', 36, '#000');

const chart = echarts.init(document.getElementById('c'), null, {renderer: 'canvas'});
chart.setOption({
  animation: false,
  backgroundColor: '#ffffff',
  grid: grids.map(g => Object.assign({show: true, borderColor: '#000', borderWidth: 2, backgroundColor: 'rgba(0,0,0,0)', containLabel: false}, g)),
  xAxis: xAxis,
  yAxis: yAxis,
  series: series,
  graphic: graphic
});
</script></body></html>
